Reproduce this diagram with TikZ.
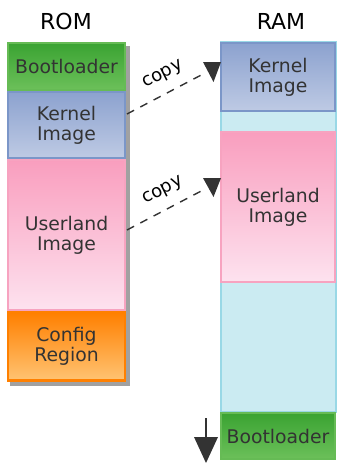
\documentclass[tikz,border=0pt]{standalone}
\usepackage{fontspec}
\setmainfont{DejaVu Sans}
\begin{document}
\begin{tikzpicture}[x=1pt,y=-1pt]
\definecolor{txt}{HTML}{333333}
\definecolor{ink}{HTML}{333333}
\tikzset{
  region/.style={minimum width=117pt, inner sep=0pt, line width=2.5pt, align=center,
    text=txt, font=\fontsize{18.8}{20}\selectfont},
  bootbox/.style={region, draw={rgb,255:red,102;green,187;blue,85},
    top color={rgb,255:red,58;green,163;blue,50}, bottom color={rgb,255:red,108;green,192;blue,90}},
  kernbox/.style={region, draw={rgb,255:red,123;green,150;blue,200},
    top color={rgb,255:red,140;green,162;blue,207}, bottom color={rgb,255:red,190;green,202;blue,228}},
  userbox/.style={region, draw={rgb,255:red,247;green,163;blue,192},
    top color={rgb,255:red,249;green,158;blue,190}, bottom color={rgb,255:red,253;green,226;blue,239}},
  cfgbox/.style={region, draw={rgb,255:red,255;green,128;blue,0},
    top color={rgb,255:red,255;green,128;blue,0}, bottom color={rgb,255:red,255;green,195;blue,115}},
  title/.style={font=\fontsize{22}{24}\selectfont, text=black},
  copyline/.style={draw=ink, line width=1.4pt, dash pattern=on 8pt off 7pt},
  copylabel/.style={font=\fontsize{18}{19}\selectfont, text=black, rotate=27, inner sep=0pt},
  tipfill/.style={fill=ink},
}
\useasboundingbox (0,0) rectangle (338,463);
% titles
\node[title] (romt) at (66,21) {ROM};
\node[title] (ramt) at (281,21) {RAM};
% ROM shadow
\fill[black!37] (10,46) rectangle (129.5,385.5);
% ROM regions
\node[bootbox, minimum height=47pt] (romboot) at (66.5,66.5) {Bootloader};
\node[kernbox, minimum height=66pt] (romkern) at (66.5,125) {Kernel\\Image};
\node[userbox, minimum height=150pt] (romuser) at (66.5,235) {Userland\\Image};
\node[cfgbox, minimum height=68pt] (romcfg) at (66.5,346.5) {Config\\Region};
% RAM column
\node[draw={rgb,255:red,153;green,216;blue,230}, fill={rgb,255:red,203;green,235;blue,242},
  line width=2.5pt, minimum width=115pt, minimum height=370pt, inner sep=0pt] (ramcol) at (278.5,227) {};
\node[kernbox, minimum height=68pt, minimum width=114pt] (ramkern) at (278,77) {Kernel\\Image};
\node[userbox, minimum height=150pt, minimum width=114pt] (ramuser) at (278,207) {Userland\\Image};
\node[bootbox, minimum height=46pt, minimum width=114pt] (ramboot) at (278,436) {Bootloader};
% copy arrows
\coordinate (k1) at (127,114);
\coordinate (k2) at (206,72.5);
\coordinate (u1) at (127,230);
\coordinate (u2) at (206,188.5);
\draw[copyline] (k1) -- (k2);
\draw[copyline] (u1) -- (u2);
\fill[tipfill] (203,62) -- (221,62) -- (213.5,82) -- cycle;
\fill[tipfill] (203,178) -- (221,178) -- (213.5,197) -- cycle;
\node[copylabel] (c1) at (163,75) {copy};
\node[copylabel] (c2) at (163,191) {copy};
% down arrow
\coordinate (d1) at (206,418);
\coordinate (d2) at (206,440);
\draw[draw=ink, line width=1.5pt] (d1) -- (d2);
\fill[tipfill] (194,437) -- (218,437) -- (206,463) -- cycle;
\end{tikzpicture}
\end{document}
